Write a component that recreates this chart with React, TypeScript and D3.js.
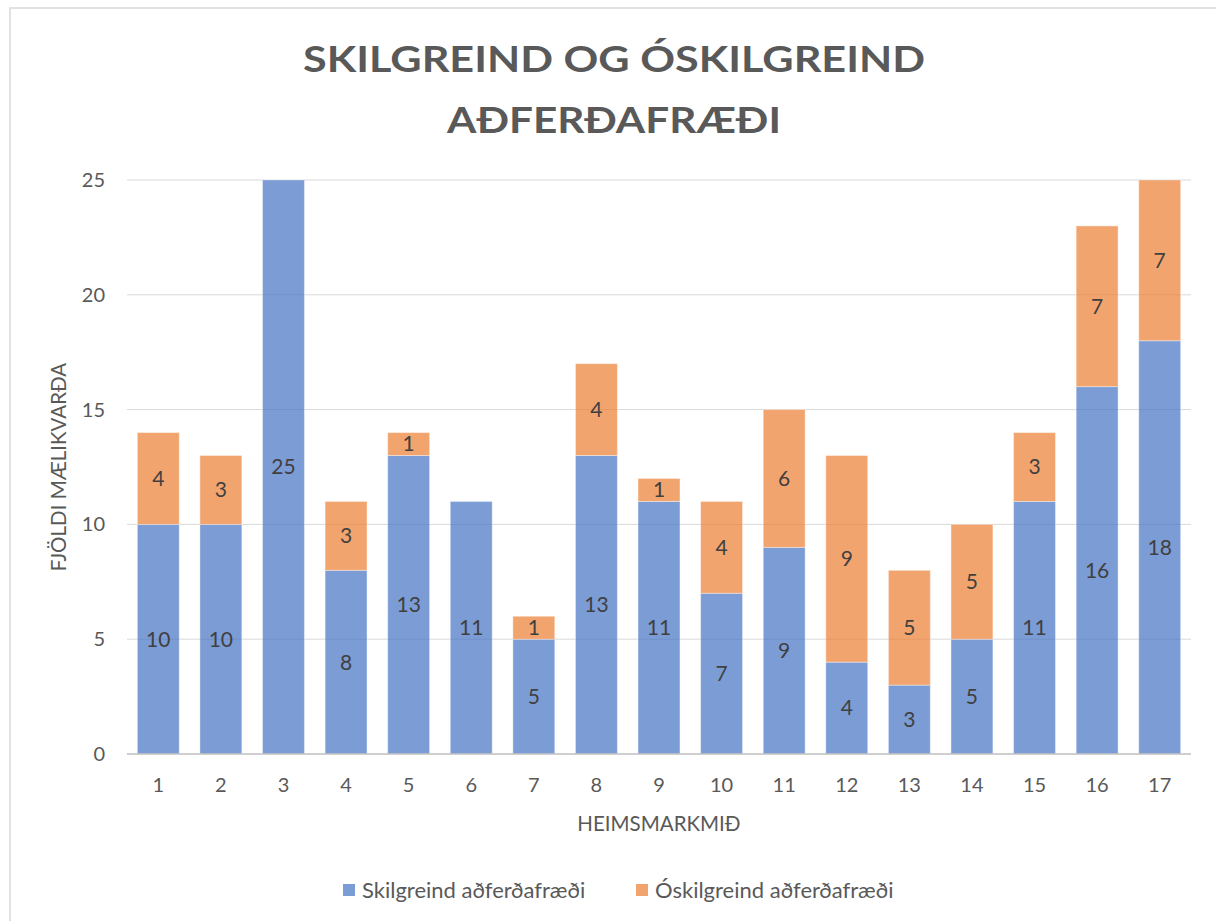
import React, { useRef, useEffect } from 'react';
import * as d3 from 'd3';

const goals = ['1', '2', '3', '4', '5', '6', '7', '8', '9', '10', '11', '12', '13', '14', '15', '16', '17'];
const skilgreind = [10, 10, 25, 8, 13, 11, 5, 13, 11, 7, 9, 4, 3, 5, 11, 16, 18];
const oskilgreind = [4, 3, 0, 3, 1, 0, 1, 4, 1, 4, 6, 9, 5, 5, 3, 7, 7];
const seriesNames = ['Skilgreind aðferðafræði', 'Óskilgreind aðferðafræði'];
const titleLines = ['SKILGREIND OG ÓSKILGREIND', 'AÐFERÐAFRÆÐI'];
const yTicks = [0, 5, 10, 15, 20, 25];

const FONT = 'Lato, "Open Sans", sans-serif';
const colors = ['#4472C4', '#ED7D31'];

function App() {
  const ref = useRef<SVGSVGElement>(null);
  const outerWidth = 1216, outerHeight = 921;
  const margin = { top: 180, right: 25, bottom: 167, left: 127 };
  const width = outerWidth - margin.left - margin.right,
    height = outerHeight - margin.top - margin.bottom;

  useEffect(() => {
    draw();
  }, []);

  const draw = () => {
    const svg = d3.select(ref.current);
    svg.selectAll('*').remove();

    // chart frame
    svg.append('rect')
      .attr('x', 10).attr('y', 8)
      .attr('width', 1230).attr('height', 940)
      .attr('fill', '#fff')
      .attr('stroke', '#D9D9D9').attr('stroke-width', 1.5);

    // title, stretched a bit to match the narrow-font original
    const titleLens = [622, 334];
    const titleY = [72, 133];
    titleLines.forEach((t, i) => {
      svg.append('text')
        .attr('x', 614).attr('y', titleY[i])
        .attr('text-anchor', 'middle')
        .attr('font-family', FONT)
        .attr('font-weight', 'bold')
        .attr('font-size', 36)
        .attr('fill', '#595959')
        .attr('textLength', titleLens[i])
        .attr('lengthAdjust', 'spacingAndGlyphs')
        .text(t);
    });

    const plotArea = svg.append('g').attr('transform', `translate(${margin.left},${margin.top})`);

    const xScale = d3.scaleBand().domain(goals).range([0, width]).paddingInner(0.33).paddingOuter(0.165);
    const yScale = d3.scaleLinear().domain([0, 25]).range([height, 0]);

    // gridlines
    plotArea.append('g').selectAll('line')
      .data(yTicks.filter(t => t > 0))
      .enter().append('line')
      .attr('x1', 0).attr('x2', width)
      .attr('y1', d => yScale(d)).attr('y2', d => yScale(d))
      .attr('stroke', '#D9D9D9').attr('stroke-width', 1);

    const rows = goals.map((g, i) => ({ goal: g, s0: skilgreind[i], s1: oskilgreind[i] }));
    const stacked = d3.stack<any>().keys(['s0', 's1'])(rows);

    stacked.forEach((layer, li) => {
      const g = plotArea.append('g');
      g.selectAll('rect')
        .data(layer.filter(d => d[1] - d[0] > 0))
        .enter().append('rect')
        .attr('x', d => xScale(d.data.goal)!)
        .attr('width', xScale.bandwidth())
        .attr('y', d => yScale(d[1]))
        .attr('height', d => yScale(d[0]) - yScale(d[1]))
        .attr('fill', colors[li])
        .attr('fill-opacity', 0.7)
        .attr('stroke', '#fff').attr('stroke-opacity', 0.4).attr('stroke-width', 1);
      g.selectAll('text')
        .data(layer.filter(d => d[1] - d[0] > 0))
        .enter().append('text')
        .attr('x', d => xScale(d.data.goal)! + xScale.bandwidth() / 2)
        .attr('y', d => (yScale(d[0]) + yScale(d[1])) / 2)
        .attr('dy', '0.35em')
        .attr('text-anchor', 'middle')
        .attr('font-family', FONT)
        .attr('font-size', 21)
        .attr('fill', '#404040')
        .text(d => d[1] - d[0]);
    });

    // baseline
    plotArea.append('line')
      .attr('x1', 0).attr('x2', width)
      .attr('y1', height).attr('y2', height)
      .attr('stroke', '#BFBFBF').attr('stroke-width', 1.5);

    const xAxis = d3.axisBottom(xScale).tickSize(0).tickPadding(24);
    const gx = plotArea.append('g').attr('transform', `translate(0,${height})`).call(xAxis);
    gx.select('.domain').remove();
    gx.selectAll('text').attr('font-family', FONT).attr('font-size', 20).attr('fill', '#595959');

    const yAxis = d3.axisLeft(yScale).tickValues(yTicks).tickSize(0).tickPadding(22);
    const gy = plotArea.append('g').call(yAxis);
    gy.select('.domain').remove();
    gy.selectAll('text').attr('font-family', FONT).attr('font-size', 20).attr('fill', '#595959');

    svg.append('text')
      .attr('x', 659).attr('y', 831)
      .attr('text-anchor', 'middle')
      .attr('font-family', FONT).attr('font-size', 20.5).attr('fill', '#595959')
      .text('HEIMSMARKMIÐ');

    svg.append('text')
      .attr('transform', 'translate(66,467) rotate(-90)')
      .attr('text-anchor', 'middle')
      .attr('font-family', FONT).attr('font-size', 20.5).attr('fill', '#595959')
      .text('FJÖLDI MÆLIKVARÐA');

    // legend
    const legendX = [343, 636];
    seriesNames.forEach((name, i) => {
      const lg = svg.append('g').attr('transform', `translate(${legendX[i]},890)`);
      lg.append('rect').attr('x', 0).attr('y', -6).attr('width', 12).attr('height', 12)
        .attr('fill', colors[i]).attr('fill-opacity', 0.7);
      lg.append('text').attr('x', 19).attr('y', 0).attr('dy', '0.35em')
        .attr('font-family', FONT).attr('font-size', 22).attr('fill', '#595959')
        .text(name);
    });
  };

  return (
    <div className="chart">
      <svg ref={ref} width={outerWidth} height={outerHeight}
        style={{ position: 'absolute', left: 0, top: 0, background: '#fff' }}>
      </svg>
    </div>
  );
}

export default App;
